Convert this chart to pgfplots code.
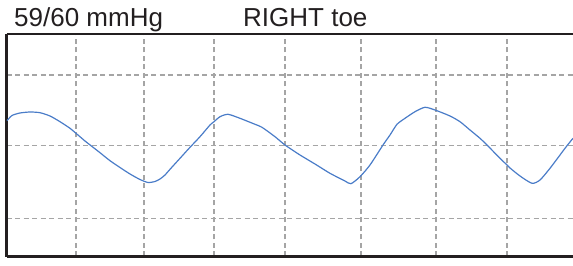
\documentclass[border=0pt]{standalone}
\usepackage{pgfplots}
\pgfplotsset{compat=1.18}
\usepackage{pgfplotstable}
\usepackage{fontspec}
\setmainfont{Liberation Sans}
\definecolor{wave}{RGB}{74,124,200}
\definecolor{gridc}{RGB}{165,165,165}
\definecolor{frame}{RGB}{35,31,32}
\pgfplotstableread{
x y
7 -120.7
12 -115.5
20 -113
30 -112
40 -112.7
50 -116
60 -121.7
70 -128.3
76 -133.3
85 -141
91 -145.7
100 -152.7
110 -160.7
120 -167.5
130 -174
140 -179.5
148 -182.5
155 -181.5
160 -179
165 -175
170 -169.3
180 -158.3
190 -147.3
200 -136.7
210 -125
214 -121.7
220 -116.7
228 -114.3
240 -118.3
255 -124.3
262 -127.3
275 -136.7
285 -145
300 -155
315 -164
330 -173.3
345 -181
351 -183.7
360 -176.7
370 -165
383 -145
390 -135
397 -124.3
405 -118.3
415 -111.7
425 -107.3
435 -110
450 -116
460 -121.7
470 -130
480 -138.3
487 -145
500 -158.3
507 -165
510 -168
520 -176
532 -183.3
540 -180
550 -168.3
560 -155
567 -145.7
573 -138.3
}\wavedata
\begin{document}
\begin{tikzpicture}
\useasboundingbox (0,0) rectangle (573bp,266bp);
\begin{axis}[
  at={(6.5bp,9.5bp)}, anchor=south west,
  scale only axis,
  width=570bp, height=222.5bp,
  xmin=6.5, xmax=576.5,
  ymin=-256.5, ymax=-34,
  xtick={76,144,214,285,361,436,507},
  ytick={-218.3,-145.7,-75},
  xticklabels={}, yticklabels={},
  major tick length=0pt,
  grid=major,
  major grid style={gridc, line width=1.1bp, dash pattern=on 5bp off 3.5bp},
  separate axis lines,
  axis x line=box,
  axis y line=left,
  axis line style={-, frame, line width=2.5bp},
  clip=false,
]
\addplot[wave, line width=1.2bp, no markers, smooth, tension=0.4] table[x=x,y=y] {\wavedata};
\end{axis}
\node[anchor=base west, inner sep=0pt, font=\fontsize{26bp}{29bp}\selectfont, text=frame] at (14bp,239.5bp) {59/60 mmHg};
\node[anchor=base west, inner sep=0pt, font=\fontsize{26bp}{29bp}\selectfont, text=frame] at (243bp,239.5bp) {RIGHT toe};
\end{tikzpicture}
\end{document}
